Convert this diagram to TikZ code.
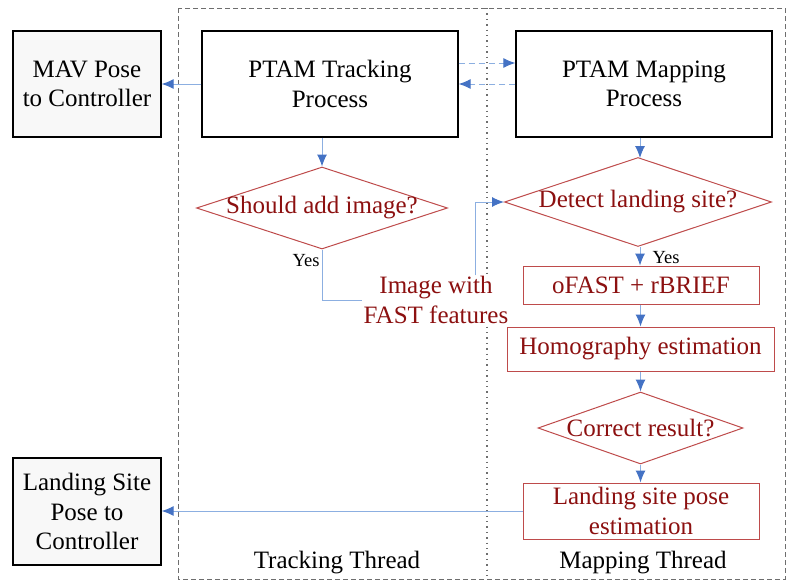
\documentclass[tikz,border=0pt]{standalone}
\usepackage{fontspec}
\setmainfont{Liberation Serif}
\usetikzlibrary{arrows.meta,shapes.geometric}
\definecolor{darkred}{RGB}{140,16,16}
\definecolor{boxred}{RGB}{190,75,75}
\definecolor{lineblue}{RGB}{140,175,225}
\definecolor{tipblue}{RGB}{68,114,196}
\definecolor{framegray}{RGB}{110,110,110}
\definecolor{lightfill}{RGB}{248,248,248}
\tikzset{
  bigfont/.style={font=\fontsize{25}{29.5}\selectfont},
  blackbox/.style={draw=black, line width=1.3pt, fill=white, bigfont, align=center, text=black},
  redbox/.style={draw=boxred, line width=1pt, fill=white, bigfont, align=center, text=darkred, inner sep=0pt},
  reddiamond/.style={diamond, draw=boxred, line width=1pt, inner sep=0pt},
  redtext/.style={bigfont, text=darkred, align=center},
  flow/.style={draw=lineblue, line width=1pt, -{Latex[length=12pt,width=10pt,color=tipblue]}},
  dflow/.style={flow, dash pattern=on 6pt off 4pt},
  plainflow/.style={draw=lineblue, line width=1pt},
  yeslabel/.style={font=\fontsize{18.5}{21}\selectfont, text=black, inner sep=0pt},
}
\begin{document}
\begin{tikzpicture}[x=1pt,y=-1pt]
\useasboundingbox (0,0) rectangle (786,581);
% thread frame
\draw[framegray, line width=0.9pt, dash pattern=on 5pt off 3pt] (178,8) rectangle (785,579);
\draw[framegray, line width=1.4pt, dash pattern=on 1.4pt off 4pt] (487,8) -- (487,579);

% helper x positions
\coordinate (xa) at (640,0);
\coordinate (xb) at (640.5,0);
\coordinate (dtop) at (640,158);

% boxes
\node[blackbox, fill=lightfill, minimum width=148, minimum height=106] (mav) at (87,84) {MAV Pose\\to Controller};
\node[blackbox, minimum width=256, minimum height=106] (track) at (330,84) {PTAM Tracking\\Process};
\node[blackbox, minimum width=256, minimum height=106] (map) at (644,84) {PTAM Mapping\\Process};
\node[blackbox, fill=lightfill, minimum width=148, minimum height=107] (ls) at (87,511.5) {Landing Site\\Pose to\\Controller};

% diamonds
\node[reddiamond, minimum width=251, minimum height=82] (should) at (322,208) {};
\node[redtext] (shouldtxt) at (should) {Should add image?};
\node[reddiamond, minimum width=267, minimum height=89] (detect) at (638,202) {};
\node[redtext] (detecttxt) at (detect) {Detect landing site?};
\node[reddiamond, minimum width=205, minimum height=72] (correct) at (640.5,428) {};
\node[redtext] (correcttxt) at (correct) {Correct result?};

% red boxes
\node[redbox, minimum width=236, minimum height=38] (ofast) at (641,285) {oFAST + rBRIEF};
\node[redbox, minimum width=267, minimum height=44] (homog) at (640.5,349) {Homography estimation};
\node[redbox, minimum width=236, minimum height=56] (lpe) at (641,511) {Landing site pose\\estimation};

% image label
\node[redtext, fill=white, inner sep=1pt] (img) at (436,300) {Image with\\FAST features};

% labels
\node[yeslabel] (yes1) at (306,261) {Yes};
\node[yeslabel] (yes2) at (666,258) {Yes};
\node[bigfont] (tt) at (337,563) {Tracking Thread};
\node[bigfont] (mt) at (643,563) {Mapping Thread};

% connectors
\draw[flow] (track.west) -- (mav.east);
\draw[dflow] ([yshift=21pt]track.east) -- ([yshift=21pt]map.west);
\draw[dflow] (map.west) -- (track.east);
\draw[flow] (track.south -| should.north) -- (should.north);
\draw[flow] (map.south -| xa) -- (dtop);
\draw[plainflow] (should.south) |- (img.west);
\draw[flow] ([xshift=39pt]img.north) |- (detect.west);
\draw[flow] (detect.south -| xa) -- (ofast.north -| xa);
\draw[flow] (ofast.south -| xb) -- (homog.north);
\draw[flow] (homog.south) -- (correct.north);
\draw[flow] (correct.south) -- (lpe.north -| correct.south);
\draw[flow] (lpe.west) -- (lpe.west -| ls.east);
\end{tikzpicture}
\end{document}
